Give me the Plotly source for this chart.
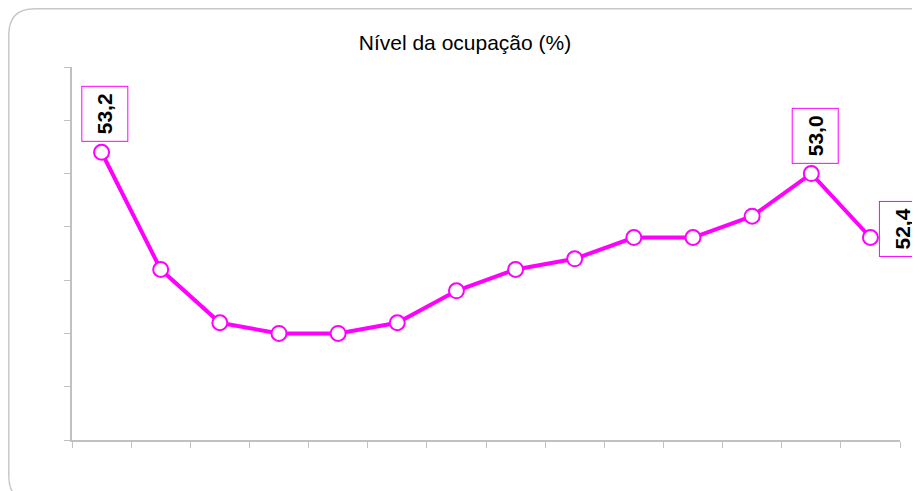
import plotly.graph_objects as go

# 14 periodos, sem rotulos no eixo x
periodos = list(range(1, 15))
ocupacao = [53.2, 52.1, 51.6, 51.5, 51.5, 51.6, 51.9, 52.1, 52.2, 52.4, 52.4, 52.6, 53.0, 52.4]
# indices dos pontos com rotulo
rotulados = [0, 12, 13]

W, H = 920, 491
OFF = 8  # margem do body da pagina
ml, mt = 72 - OFF, 67 - OFF
pw, ph = 828, 373
mr = W - ml - pw
mb = H - mt - ph

fig = go.Figure()

fig.add_trace(go.Scatter(
    x=periodos, y=ocupacao,
    mode='lines+markers',
    line=dict(color='#ff00ff', width=4),
    marker=dict(symbol='circle', size=15, color='white',
                line=dict(color='#ff00ff', width=2)),
    hoverinfo='skip', showlegend=False
))

# rotulos dos valores (caixas giradas)
offsets = {0: (3, -38), 12: (4, -38), 13: (32, -9)}
for i in rotulados:
    ax, ay = offsets[i]
    fig.add_annotation(
        x=periodos[i], y=ocupacao[i], xref='x', yref='y',
        text='<b>' + ('%.1f' % ocupacao[i]).replace('.', ',') + '</b>',
        showarrow=True, arrowcolor='rgba(0,0,0,0)', ax=ax, ay=ay,
        textangle=-90, width=54, height=45,
        font=dict(family='Liberation Sans, Arial', size=21, color='black'),
        bordercolor='#ff00ff', borderwidth=1, borderpad=0, bgcolor='white'
    )

# moldura arredondada em volta do grafico (coordenadas locais da figura)
def px(x):
    return (x - ml) / pw

def py(y):
    return (H - mb - y) / ph

x0, y0, x1, y1, r = 0.8, 0.8, 928, 494, 26
path = ('M %f,%f L %f,%f Q %f,%f %f,%f L %f,%f Q %f,%f %f,%f '
        'L %f,%f Q %f,%f %f,%f L %f,%f Q %f,%f %f,%f Z') % (
    px(x0 + r), py(y0), px(x1 - r), py(y0), px(x1), py(y0), px(x1), py(y0 + r),
    px(x1), py(y1 - r), px(x1), py(y1), px(x1 - r), py(y1),
    px(x0 + r), py(y1), px(x0), py(y1), px(x0), py(y1 - r),
    px(x0), py(y0 + r), px(x0), py(y0), px(x0 + r), py(y0))
fig.add_shape(type='path', path=path, xref='paper', yref='paper',
              line=dict(color='#c8c8c8', width=1.5), layer='below')

fig.update_layout(
    width=W, height=H,
    margin=dict(l=ml, r=mr, t=mt, b=mb),
    paper_bgcolor='white', plot_bgcolor='white',
    title=dict(text='Nível da ocupação (%)', x=(465 - 72) / pw, xref='paper',
               xanchor='center', y=1 - (43 - OFF) / H, yanchor='middle',
               font=dict(family='Liberation Sans, Arial', size=21, color='black')),
    font=dict(family='Liberation Sans, Arial'),
)

fig.update_xaxes(range=[0.5, 14.5], tickvals=[x + 0.5 for x in range(0, 15)],
                 showticklabels=False, ticks='outside', ticklen=6, tickcolor='#c0c0c0',
                 showgrid=False, zeroline=False, showline=True, linecolor='#c0c0c0',
                 linewidth=1.5, fixedrange=True)
fig.update_yaxes(range=[50.5, 54.0], dtick=0.5, tick0=50.5,
                 showticklabels=False, ticks='outside', ticklen=6, tickcolor='#c0c0c0',
                 showgrid=False, zeroline=False, showline=True, linecolor='#c0c0c0',
                 linewidth=1.5, fixedrange=True)

fig.write_html("out.html")
